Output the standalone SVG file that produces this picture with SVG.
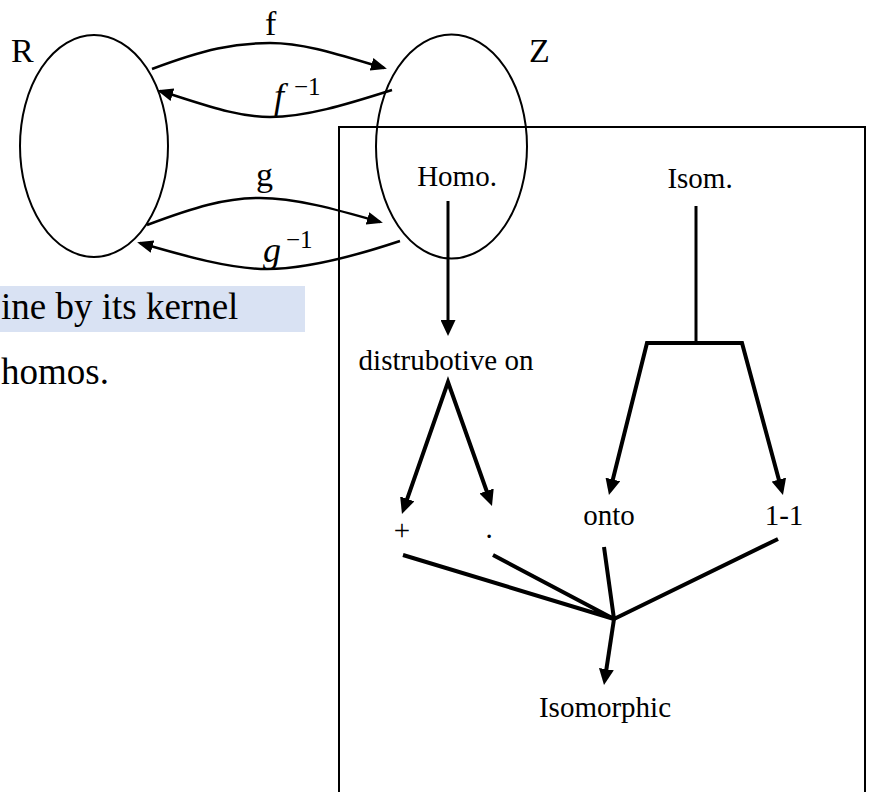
<svg xmlns="http://www.w3.org/2000/svg" width="870" height="792" viewBox="0 0 870 792">
<style>
  text { font-family: "Liberation Serif", "Times New Roman", serif; fill: #000; }
  .lbl { font-size: 34px; }
  .mi { font-size: 36px; font-style: italic; }
  .sup { font-size: 25px; }
  .t { font-size: 29px; text-anchor: middle; }
  .side { font-size: 37px; }
  .ell { fill: none; stroke: #000; stroke-width: 2; }
  .curve { fill: none; stroke: #000; stroke-width: 2.5; marker-end: url(#ahc); }
  .thin { fill: none; stroke: #000; stroke-width: 3; }
  .thick { fill: none; stroke: #000; stroke-width: 4; }
</style>
<defs>
  <marker id="ahc" markerUnits="userSpaceOnUse" markerWidth="16" markerHeight="13" refX="13" refY="6.5" orient="auto">
    <path d="M0,0 L16,6.5 L0,13 z" fill="#000"/>
  </marker>
  <marker id="ah" markerUnits="userSpaceOnUse" markerWidth="16" markerHeight="15" refX="8" refY="7.5" orient="auto-start-reverse">
    <path d="M0,0 L16,7.5 L0,15 z" fill="#000"/>
  </marker>
</defs>
<rect width="870" height="792" fill="#fff"/>

<g id="side-text">
  <rect x="-2" y="286" width="307" height="46" fill="#D9E2F3"/>
  <text class="side" x="1" y="319">ine by its kernel</text>
  <text class="side" x="1" y="384" font-size="32">homos.</text>
</g>

<g id="box">
  <rect x="339" y="127" width="526" height="680" fill="none" stroke="#000" stroke-width="2"/>
</g>

<g id="node-R">
  <ellipse class="ell" cx="94" cy="146" rx="74" ry="111"/>
  <text class="lbl" x="11" y="62">R</text>
</g>
<g id="node-Z">
  <ellipse class="ell" cx="451.5" cy="146.5" rx="75.5" ry="112"/>
  <text class="lbl" x="529" y="62">Z</text>
</g>

<g id="node-homo"><text class="t" x="457" y="186">Homo.</text></g>
<g id="node-isom"><text class="t" x="700" y="188">Isom.</text></g>
<g id="node-distr"><text class="t" x="446" y="370">distrubotive on</text></g>
<g id="node-plus"><text class="t" x="402" y="540" font-size="31">+</text></g>
<g id="node-dot"><text class="t" x="489" y="538">.</text></g>
<g id="node-onto"><text class="t" x="609" y="525">onto</text></g>
<g id="node-11"><text class="t" x="784" y="525">1-1</text></g>
<g id="node-isomorphic"><text class="t" x="605" y="717">Isomorphic</text></g>

<g id="connectors">
  <path class="curve" d="M152,69 C205,49 235,43 270,43 C305,43 340,55 384,68"/>
  <path class="curve" d="M392,90 C345,105 305,117 270,117 C235,117 200,103 160,91"/>
  <path class="curve" d="M147,225 C195,207 225,198 260,198 C295,198 335,209 380,222"/>
  <path class="curve" d="M400,241 C355,256 305,269 267,269 C230,269 185,256 140,243"/>

  <line class="thin" x1="448" y1="201" x2="448" y2="328" marker-end="url(#ah)"/>
  <line class="thin" x1="696" y1="206" x2="696" y2="343"/>
  <path class="thick" d="M610.9,487.2 L647,343 L742,343 L780.9,487.3" marker-start="url(#ah)" marker-end="url(#ah)"/>
  <path class="thick" d="M404.6,506.4 L448,382 L489.3,498.5" marker-start="url(#ah)" marker-end="url(#ah)"/>

  <path class="thick" d="M403,555 L614,619 M493,555 L614,619 M604,547 L614,619 M778,539 L614,619"/>
  <line class="thick" x1="614" y1="619" x2="605.2" y2="677.1" marker-end="url(#ah)"/>

  <text class="lbl" x="265" y="35">f</text>
  <text class="mi" x="274" y="108">f</text>
  <text class="sup" x="294" y="95">−1</text>
  <text class="lbl" x="256" y="186">g</text>
  <text class="mi" x="263" y="262">g</text>
  <text class="sup" x="286" y="248">−1</text>
</g>
</svg>
